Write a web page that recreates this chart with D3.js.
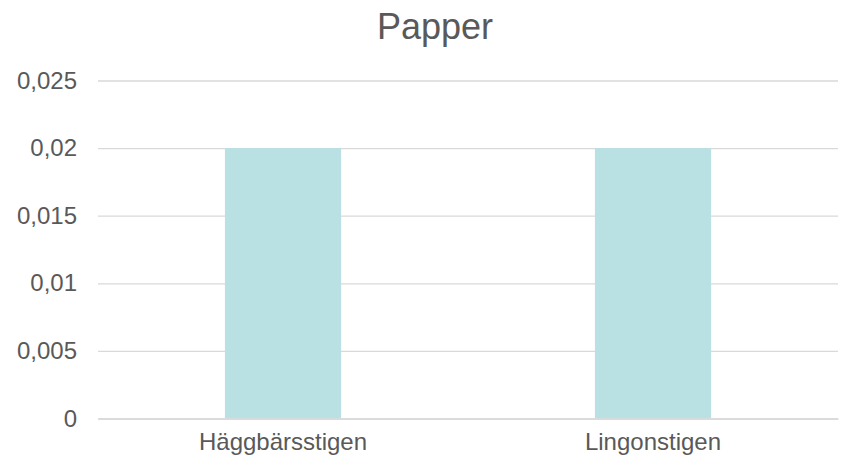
<!DOCTYPE html>
<html>
<head>
<meta charset="utf-8">
<script src="https://cdn.jsdelivr.net/npm/d3@7"></script>
<style>
  body { margin: 0; background: #fff; }
  svg { font-family: "Liberation Sans", Arial, sans-serif; }
</style>
</head>
<body>
<div id="chart"></div>
<script>
// data
const categories = ["Häggbärsstigen", "Lingonstigen"];
const values = [0.02, 0.02];
const yTicks = [0, 0.005, 0.01, 0.015, 0.02, 0.025];
const title = "Papper";

const W = 843, H = 461;
const margin = { top: 80.5, right: 5, bottom: 42.5, left: 98 };
const innerW = W - margin.left - margin.right;
const innerH = H - margin.top - margin.bottom;

const svg = d3.select("#chart").append("svg")
  .attr("width", W).attr("height", H);

const g = svg.append("g").attr("transform", `translate(${margin.left},${margin.top})`);

const x = d3.scaleBand()
  .domain(categories)
  .range([0, innerW])
  .paddingInner(0.686)
  .paddingOuter(0.343);

const y = d3.scaleLinear().domain([0, 0.025]).range([innerH, 0]);

const fmt = d => String(+d.toFixed(3)).replace(".", ",");

// grid
g.append("g")
  .call(d3.axisLeft(y).tickValues(yTicks).tickSize(-innerW).tickFormat(""))
  .call(a => a.select(".domain").remove())
  .call(a => a.selectAll("line").attr("stroke", "#d9d9d9").attr("stroke-width", 1.3));

// y labels
g.append("g")
  .call(d3.axisLeft(y).tickValues(yTicks).tickSize(0).tickPadding(21).tickFormat(fmt))
  .call(a => a.select(".domain").remove())
  .selectAll("text")
  .style("font-size", "24px")
  .style("fill", "#595959");

// bars
g.selectAll(".bar")
  .data(values)
  .enter().append("rect")
  .attr("class", "bar")
  .attr("x", (d, i) => x(categories[i]))
  .attr("y", d => y(d))
  .attr("width", x.bandwidth())
  .attr("height", d => innerH - y(d))
  .attr("fill", "#b9e0e3");

// x axis
g.append("g")
  .attr("transform", `translate(0,${innerH})`)
  .call(d3.axisBottom(x).tickSize(0).tickPadding(14))
  .call(a => a.select(".domain").attr("stroke", "#d9d9d9").attr("stroke-width", 1.3))
  .selectAll("text")
  .style("font-size", "24px")
  .style("fill", "#595959");

// title
svg.append("text")
  .attr("x", 435).attr("y", 39)
  .attr("text-anchor", "middle")
  .style("font-size", "36px")
  .style("fill", "#595959")
  .text(title);
</script>
</body>
</html>
